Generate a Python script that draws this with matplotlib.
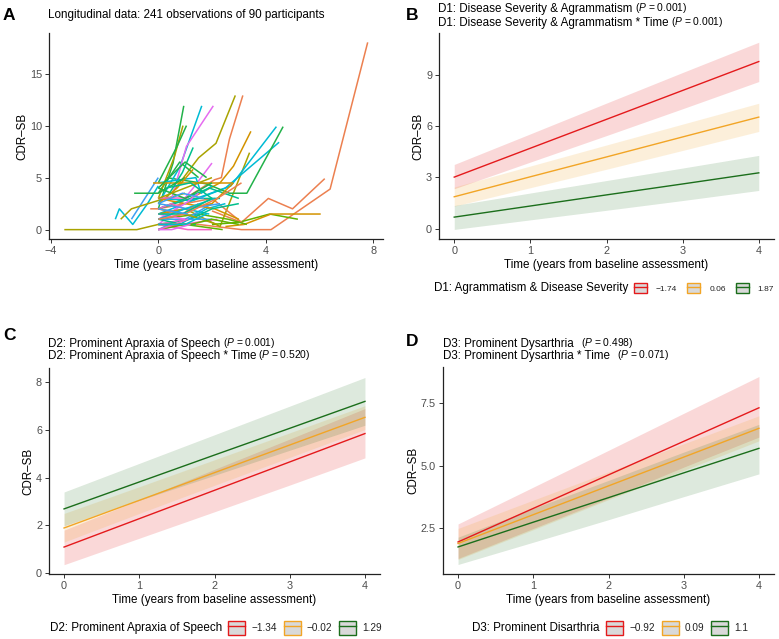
import matplotlib
matplotlib.use("Agg")
import matplotlib.pyplot as plt
from matplotlib.patches import Rectangle
from matplotlib.lines import Line2D
from matplotlib.ticker import FormatStrFormatter

plt.rcParams['font.family'] = ['Liberation Sans', 'DejaVu Sans']
plt.rcParams['mathtext.fontset'] = 'custom'
plt.rcParams['mathtext.rm'] = 'Liberation Sans'
plt.rcParams['mathtext.it'] = 'Liberation Sans:italic'

# ---------------- Panel A data: individual trajectories ----------------
traj_times = [
    [0.0, 1.5, 3.1, 4.2, 6.4, 7.8], [2.0, 3.1, 4.1, 5.0, 6.2], [1.0, 2.1, 2.35, 2.65, 3.15],
    [0.5, 1.5, 2.15, 2.87], [1.2, 2.3, 2.8, 3.45], [1.0, 2.3, 3.4], [0.0, 1.0, 2.7, 4.4],
    [0.0, 1.2, 2.5, 4.5], [0.3, 1.8, 2.65, 3.3, 4.65], [2.0, 3.0, 4.15, 5.2],
    [2.5, 3.2, 4.2, 6.05], [-3.5, -0.8, 0.0, 1.0], [-1.6, -1.45, -0.95, -0.4, 0.0],
    [-1.0, 0.0], [-1.4, -1.0, 0.0, 1.0], [-0.9, 0.0, 0.8, 1.5], [0.0, 0.55, 0.95],
    [0.0, 0.8, 1.62], [0.5, 1.05, 2.05], [0.0, 0.6, 0.92], [0.0, 0.7, 1.05],
    [0.5, 1.3, 2.0], [0.3, 0.9, 1.3], [0.0, 1.4, 1.6, 2.0], [-0.2, 1.0, 2.0, 2.8],
    [0.0, 0.5, 1.0], [0.0, 1.0, 2.0, 3.2], [0.0, 1.5, 2.6, 3.3], [0.0, 1.0, 1.9, 3.0],
    [0.0, 0.8, 1.8, 2.5], [0.0, 1.0, 2.0], [0.0, 0.9, 2.2], [0.0, 1.1, 2.0], [0.0, 0.9],
    [0.0, 1.0, 2.1, 3.0], [0.0, 1.2, 2.3], [0.0, 1.0], [0.0, 0.7, 1.3], [0.0, 1.0, 1.9],
    [0.0, 1.2, 2.0, 3.0], [0.0, 1.0, 2.2], [0.0, 0.5, 1.0], [0.0, 1.0, 1.5], [0.0, 1.1],
    [0.0, 0.8, 2.0], [0.0, 1.0], [0.0, 1.0, 2.0, 2.8], [0.0, 1.0, 2.0], [0.0, 1.1, 2.3],
    [0.0, 1.0, 2.4], [0.0, 0.9, 1.4], [0.0, 1.0, 2.0], [0.0, 1.0], [0.0, 0.6, 1.1],
    [-0.3, 0.0, 0.9, 1.5], [0.0, 1.0, 2.1], [0.0, 1.0, 1.8], [0.0, 1.2, 2.0, 3.0],
    [0.0, 0.9, 2.0], [0.0, 1.0, 2.2, 3.1], [0.0, 1.1], [0.0, 1.0, 1.8], [0.0, 0.5, 1.2],
    [0.0, 0.9, 1.7], [0.3, 1.2, 2.0],
]
traj_cdr = [
    [0.5, 0.5, 0.0, 0.0, 3.9, 18.0], [1.8, 0.7, 3.0, 2.0, 4.9], [3.0, 4.8, 5.0, 8.7, 12.9],
    [3.5, 6.9, 8.3, 12.9], [3.0, 4.5, 6.1, 9.45], [2.0, 0.3, 7.4], [1.5, 2.5, 4.2, 9.9],
    [3.0, 2.8, 4.0, 8.4], [5.0, 4.4, 3.5, 3.5, 9.9], [0.5, 0.7, 1.5, 1.0],
    [0.3, 0.5, 1.5, 1.5], [0.0, 0.0, 0.5, 0.5], [1.0, 2.0, 0.5, 2.5, 4.2],
    [1.0, 5.0], [1.0, 2.0, 2.8, 3.5], [3.5, 3.5, 6.5, 5.0], [2.0, 6.4, 11.9],
    [2.5, 6.0, 11.9], [3.0, 8.0, 11.9], [3.0, 7.0, 10.0], [4.5, 8.0, 10.0],
    [1.5, 4.0, 6.4], [3.0, 5.5, 7.9], [4.5, 5.0, 3.5, 4.2], [4.5, 4.5, 4.5, 4.5],
    [0.5, 1.5, 3.0], [2.0, 2.5, 3.0, 0.5], [1.0, 1.5, 1.0, 0.5], [2.0, 3.0, 4.0, 3.0],
    [0.0, 0.5, 2.0, 2.5], [1.0, 1.0, 2.5], [0.0, 0.5, 1.0], [0.5, 0.0, 0.0], [1.0, 1.5],
    [3.0, 2.5, 2.0, 1.0], [2.0, 3.0, 3.0], [3.5, 5.0], [2.5, 4.0, 5.8], [1.5, 2.0, 1.5],
    [0.5, 1.0, 2.0, 2.5], [2.0, 1.5, 0.5], [2.0, 2.5, 2.0], [1.0, 2.5, 3.5], [3.0, 3.0],
    [0.0, 1.0, 1.0], [0.5, 1.0], [1.5, 2.0, 2.5, 4.5], [4.0, 3.0, 4.5], [2.5, 2.0, 2.5],
    [0.0, 0.5, 0.0], [1.0, 0.5, 0.5], [3.0, 4.0, 5.0], [1.5, 1.0], [0.0, 0.5, 1.0],
    [2.0, 2.0, 1.5, 2.5], [1.0, 2.0, 3.0], [4.0, 6.5, 5.0], [0.5, 0.5, 1.0, 0.5],
    [1.5, 1.5, 3.0], [1.0, 1.5, 3.0, 4.5], [2.0, 1.5], [0.5, 0.5, 1.5], [0.0, 0.0, 0.5],
    [2.5, 3.5, 3.0], [4.0, 4.5, 3.0],
]
traj_group = [
    'or', 'or', 'or', 'ol', 'go', 'ol', 'cy', 'cy', 'gr', 'lg', 'go', 'ol', 'cy', 'bl', 'ol',
    'gr', 'gr', 'cy', 'mg', 'ol', 'gr', 'mg', 'tg', 'cy', 'go', 'mg', 'or', 'lg', 'tg', 'cy',
    'bl', 'pk', 'pk', 'mg', 'go', 'tg', 'gr', 'go', 'cy', 'tg', 'ol', 'pk', 'mg', 'pk', 'bl',
    'pk', 'go', 'gr', 'bl', 'lg', 'tg', 'ol', 'mg', 'pk', 'or', 'cy', 'gr', 'lg', 'tg', 'or',
    'bl', 'cy', 'mg', 'bl', 'tg',
]
palette_a = {'or': '#EC8050', 'go': '#D39300', 'ol': '#A9A300', 'lg': '#62B200',
             'gr': '#22B24A', 'tg': '#00BF8C', 'cy': '#00BBD4', 'bl': '#3EA0F2',
             'mg': '#E56CF0', 'pk': '#F764C6'}

# ---------------- Panels B-D: model predictions ----------------
pred_time = [0, 1, 2, 3, 4]

d1_labels = ['\u22121.74', '0.06', '1.87']
d1_fit = [[3.02, 4.71, 6.40, 8.09, 9.78],
          [1.87, 3.04, 4.20, 5.37, 6.53],
          [0.68, 1.33, 1.98, 2.62, 3.27]]
d1_lower = [[2.34, 3.90, 5.45, 7.02, 8.61],
            [1.32, 2.40, 3.48, 4.58, 5.69],
            [-0.04, 0.52, 1.08, 1.65, 2.24]]
d1_upper = [[3.76, 5.55, 7.35, 9.14, 10.91],
            [2.44, 3.67, 4.90, 6.12, 7.34],
            [1.36, 2.09, 2.82, 3.55, 4.29]]

d2_labels = ['\u22121.34', '\u22120.02', '1.29']
d2_fit = [[1.09, 2.28, 3.47, 4.66, 5.85],
          [1.89, 3.05, 4.21, 5.37, 6.53],
          [2.69, 3.82, 4.95, 6.07, 7.20]]
d2_lower = [[0.35, 1.46, 2.57, 3.69, 4.83],
            [1.30, 2.50, 3.68, 4.85, 6.02],
            [1.98, 3.05, 4.10, 5.15, 6.20]]
d2_upper = [[1.80, 3.07, 4.35, 5.62, 6.90],
            [2.50, 3.62, 4.75, 5.88, 7.02],
            [3.40, 4.60, 5.80, 7.00, 8.20]]

d3_labels = ['\u22120.92', '0.09', '1.1']
d3_fit = [[1.96, 3.30, 4.64, 5.98, 7.32],
          [1.90, 3.05, 4.20, 5.35, 6.50],
          [1.76, 2.75, 3.73, 4.72, 5.70]]
d3_lower = [[1.30, 2.50, 3.70, 4.95, 6.15],
            [1.26, 2.45, 3.65, 4.82, 6.00],
            [1.06, 1.95, 2.85, 3.77, 4.68]]
d3_upper = [[2.68, 4.15, 5.62, 7.10, 8.57],
            [2.50, 3.63, 4.76, 5.88, 7.00],
            [2.15, 3.30, 4.42, 5.55, 6.66]]

level_colors = ['#E41A1C', '#F2A526', '#1B6E1B']
ribbon_alpha = [0.17, 0.17, 0.15]

# ---------------- Layout ----------------
W, H = 779, 639
fig = plt.figure(figsize=(W / 100, H / 100), dpi=100)


def px_axes(left, top, right, bottom):
    return fig.add_axes([left / W, 1 - bottom / H, (right - left) / W, (bottom - top) / H])


def style(ax):
    for s in ['top', 'right']:
        ax.spines[s].set_visible(False)
    for s in ['left', 'bottom']:
        ax.spines[s].set_linewidth(0.9)
        ax.spines[s].set_color('#222222')
    ax.tick_params(axis='both', length=3, width=0.7, color='#333333',
                   labelsize=7.8, labelcolor='#4D4D4D', pad=2)
    ax.set_xlabel('Time (years from baseline assessment)', fontsize=8.4, labelpad=2)
    ax.set_ylabel('CDR\u2013SB', fontsize=8.4, labelpad=1)


axA = px_axes(49, 33, 383, 239)
axB = px_axes(439, 33, 774, 239)
axC = px_axes(49, 368, 380, 574)
axD = px_axes(443, 367, 774, 574)

# Panel A
for t, y, g in zip(traj_times, traj_cdr, traj_group):
    axA.plot(t, y, color=palette_a[g], lw=1.1, solid_capstyle='butt')
axA.set_xlim(-4.07, 8.37)
axA.set_ylim(-0.9, 18.9)
axA.set_xticks([-4, 0, 4, 8])
axA.set_yticks([0, 5, 10, 15])
style(axA)


def draw_pred(ax, fits, lows, ups):
    for lo, up, c, a in zip(lows, ups, level_colors, ribbon_alpha):
        ax.fill_between(pred_time, lo, up, color=c, alpha=a, lw=0)
    for f, c in zip(fits, level_colors):
        ax.plot(pred_time, f, color=c, lw=1.0)
    ax.set_xlim(-0.2, 4.2)
    ax.set_xticks([0, 1, 2, 3, 4])
    style(ax)


draw_pred(axB, d1_fit, d1_lower, d1_upper)
axB.set_ylim(-0.6, 11.45)
axB.set_yticks([0, 3, 6, 9])

draw_pred(axC, d2_fit, d2_lower, d2_upper)
axC.set_ylim(-0.04, 8.6)
axC.set_yticks([0, 2, 4, 6, 8])

draw_pred(axD, d3_fit, d3_lower, d3_upper)
axD.set_ylim(0.68, 8.95)
axD.set_yticks([2.5, 5.0, 7.5])
axD.yaxis.set_major_formatter(FormatStrFormatter('%.1f'))

# ---------------- Titles ----------------
def fx(px):
    return px / W


def fy(py):
    return 1 - py / H


letter_kw = dict(fontsize=12.5, fontweight='bold', va='center', ha='left')
fig.text(fx(3), fy(15), 'A', **letter_kw)
fig.text(fx(406), fy(15), 'B', **letter_kw)
fig.text(fx(3), fy(335), 'C', **letter_kw)
fig.text(fx(406), fy(341), 'D', **letter_kw)

fig.text(fx(48), fy(15), 'Longitudinal data: 241 observations of 90 participants',
         fontsize=8.4, va='center', ha='left')


def title_line(xpx, ypx, main, pval, gap):
    t = fig.text(fx(xpx), fy(ypx), main, fontsize=8.4, va='baseline', ha='left')
    axA.annotate('($\\mathit{P}$ = ' + pval + ')', xy=(1, 0), xycoords=t,
                 xytext=(gap, 0), textcoords='offset points', fontsize=7.4,
                 va='bottom', ha='left', annotation_clip=False)


title_line(438, 12, 'D1: Disease Severity & Agrammatism', '0.001', 2)
title_line(438, 26, 'D1: Disease Severity & Agrammatism * Time', '0.001', 2)
title_line(48, 347, 'D2: Prominent Apraxia of Speech', '0.001', 2)
title_line(48, 359, 'D2: Prominent Apraxia of Speech * Time', '0.520', 1)
title_line(443, 347, 'D3: Prominent Dysarthria', '0.498', 5)
title_line(443, 359, 'D3: Prominent Dysarthria * Time', '0.071', 5)


# ---------------- Legends ----------------
def add_legend(title, labels, key_left, ycen, fs_lab, fs_title, key_px, tpad, cspace):
    em = fs_lab * 100 / 72
    handles = []
    for c in level_colors:
        box = Rectangle((0, 0), 1, 1, facecolor='#D9D9D9', edgecolor=c, lw=1.0)
        ln = Line2D([0], [0], color=c, lw=1.0)
        handles.append((box, ln))
    fig.legend(handles, labels, loc='center left',
               bbox_to_anchor=(fx(key_left), fy(ycen)), ncol=3, frameon=False,
               fontsize=fs_lab, handlelength=key_px / em, handleheight=key_px / em,
               handletextpad=tpad / em, columnspacing=cspace / em,
               borderpad=0, borderaxespad=0, labelcolor='#222222')
    fig.text(fx(key_left - 6), fy(ycen), title, fontsize=fs_title, ha='right', va='center')


add_legend('D1: Agrammatism & Disease Severity', d1_labels, 634, 288, 6.0, 8.4, 13, 9, 10)
add_legend('D2: Prominent Apraxia of Speech', d2_labels, 228, 628, 7.2, 8.4, 17, 6, 7)
add_legend('D3: Prominent Disarthria', d3_labels, 606, 628, 7.2, 8.4, 17, 6, 7)

fig.savefig('out.png', dpi=100, facecolor='white')
